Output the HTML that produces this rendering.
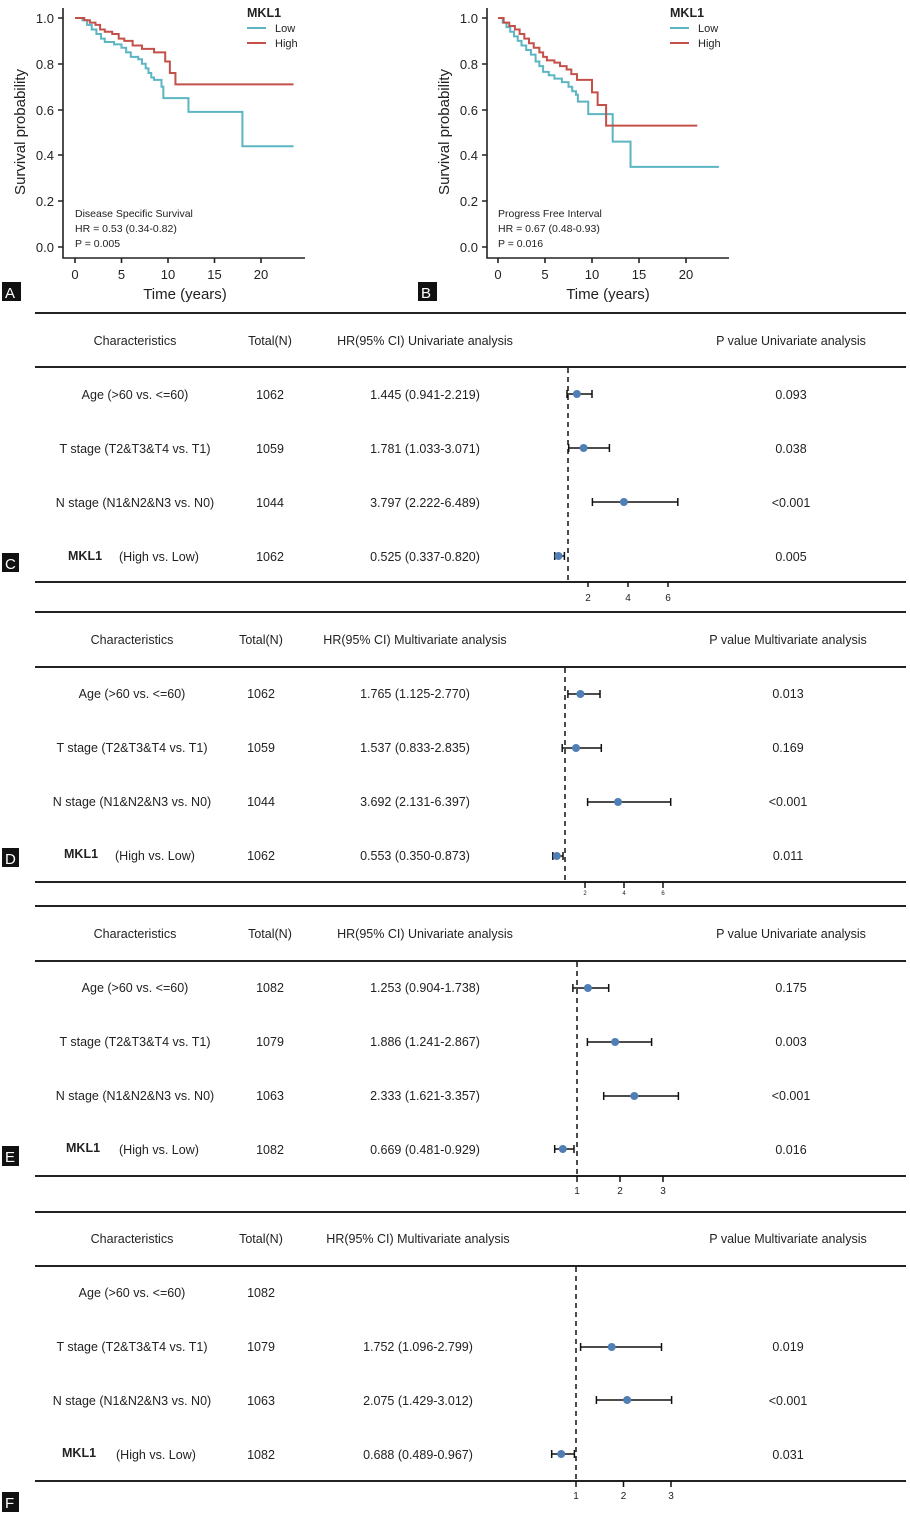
<!DOCTYPE html>
<html><head><meta charset="utf-8"><style>
html,body{margin:0;padding:0;background:#fff}
svg{display:block}
text{font-family:"Liberation Sans",sans-serif;fill:#222}
.t{font-size:12.5px}
.tk{font-size:13px;fill:#333}
.ax{stroke:#222;stroke-width:1.6;fill:none}
.ln{stroke:#222;stroke-width:2}
.lo{stroke:#5bb5c2;stroke-width:2;fill:none}
.hi{stroke:#c4504a;stroke-width:2;fill:none}
.ci{stroke:#111;stroke-width:1.5}
.dot{fill:#4f7fb5}
.dash{stroke:#111;stroke-width:1.5;stroke-dasharray:5,4}
.lab{fill:#fff;font-size:15px}
</style></head><body>
<svg width="910" height="1513" viewBox="0 0 910 1513" xmlns="http://www.w3.org/2000/svg">
<!-- Panel A -->
<g>
<path class="ax" d="M63,8 V258 H305"/>
<g class="ax">
<path d="M58,18H63 M58,64H63 M58,110H63 M58,155H63 M58,201H63 M58,247H63"/>
<path d="M75,258V263 M121.5,258V263 M168,258V263 M214.5,258V263 M261,258V263"/>
</g>
<g class="tk" text-anchor="end">
<text x="54" y="23">1.0</text><text x="54" y="69">0.8</text><text x="54" y="115">0.6</text>
<text x="54" y="160">0.4</text><text x="54" y="206">0.2</text><text x="54" y="252">0.0</text>
</g>
<g class="tk" text-anchor="middle">
<text x="75" y="279">0</text><text x="121.5" y="279">5</text><text x="168" y="279">10</text><text x="214.5" y="279">15</text><text x="261" y="279">20</text>
</g>
<text x="185" y="299" text-anchor="middle" style="font-size:15px">Time (years)</text>
<text transform="translate(25,132) rotate(-90)" text-anchor="middle" style="font-size:15px">Survival probability</text>
<g transform="translate(75,247) scale(9.3,-229)">
<path class="lo" vector-effect="non-scaling-stroke" d="M0,1 H0.8 V0.99 H1.3 V0.97 H1.8 V0.95 H2.3 V0.93 H2.8 V0.91 H3.2 V0.895 H4.2 V0.885 H5 V0.87 H5.5 V0.85 H6 V0.83 H6.8 V0.82 H7.2 V0.8 H7.6 V0.78 H7.9 V0.76 H8.2 V0.74 H8.5 V0.73 H9.3 V0.7 H9.5 V0.65 H12.2 V0.59 H18 V0.44 H23.5"/>
<path class="hi" vector-effect="non-scaling-stroke" d="M0,1 H1 V0.99 H1.6 V0.98 H2.2 V0.97 H2.7 V0.95 H3.2 V0.94 H4 V0.93 H4.7 V0.91 H5.3 V0.9 H6.2 V0.88 H7.2 V0.865 H8.5 V0.85 H9.7 V0.81 H10.2 V0.76 H10.8 V0.71 H23.5"/>
</g>
<text x="247" y="17" style="font-size:12.5px;font-weight:bold">MKL1</text>
<line class="lo" x1="247" y1="28" x2="266" y2="28"/><text x="275" y="32" style="font-size:11px">Low</text>
<line class="hi" x1="247" y1="43" x2="266" y2="43"/><text x="275" y="47" style="font-size:11px">High</text>
<g style="font-size:10.5px"><text x="75" y="217">Disease Specific Survival</text><text x="75" y="232">HR = 0.53 (0.34-0.82)</text><text x="75" y="247">P = 0.005</text></g>
<rect x="2" y="282" width="19" height="19" fill="#111"/><text class="lab" x="5" y="298">A</text>
</g>
<!-- Panel B -->
<g>
<path class="ax" d="M487,8 V258 H729"/>
<g class="ax">
<path d="M482,18H487 M482,64H487 M482,110H487 M482,155H487 M482,201H487 M482,247H487"/>
<path d="M498,258V263 M545,258V263 M592,258V263 M639,258V263 M686,258V263"/>
</g>
<g class="tk" text-anchor="end">
<text x="478" y="23">1.0</text><text x="478" y="69">0.8</text><text x="478" y="115">0.6</text>
<text x="478" y="160">0.4</text><text x="478" y="206">0.2</text><text x="478" y="252">0.0</text>
</g>
<g class="tk" text-anchor="middle">
<text x="498" y="279">0</text><text x="545" y="279">5</text><text x="592" y="279">10</text><text x="639" y="279">15</text><text x="686" y="279">20</text>
</g>
<text x="608" y="299" text-anchor="middle" style="font-size:15px">Time (years)</text>
<text transform="translate(449,132) rotate(-90)" text-anchor="middle" style="font-size:15px">Survival probability</text>
<g transform="translate(498,247) scale(9.4,-229)">
<path class="lo" vector-effect="non-scaling-stroke" d="M0,1 H0.5 V0.98 H0.9 V0.96 H1.3 V0.94 H1.7 V0.92 H2.1 V0.9 H2.5 V0.88 H3 V0.86 H3.5 V0.84 H4 V0.81 H4.4 V0.79 H4.8 V0.765 H5.4 V0.75 H6 V0.735 H6.8 V0.72 H7.5 V0.7 H7.9 V0.68 H8.3 V0.665 H8.5 V0.635 H9.6 V0.58 H12.2 V0.46 H14.1 V0.35 H23.5"/>
<path class="hi" vector-effect="non-scaling-stroke" d="M0,1 H0.6 V0.98 H1.2 V0.965 H1.8 V0.95 H2.3 V0.93 H2.8 V0.91 H3.3 V0.89 H3.8 V0.87 H4.4 V0.85 H4.8 V0.83 H5.2 V0.815 H6 V0.805 H6.6 V0.79 H7.3 V0.775 H7.8 V0.755 H8.4 V0.73 H10 V0.675 H10.6 V0.62 H11.5 V0.53 H21.2"/>
</g>
<text x="670" y="17" style="font-size:12.5px;font-weight:bold">MKL1</text>
<line class="lo" x1="670" y1="28" x2="689" y2="28"/><text x="698" y="32" style="font-size:11px">Low</text>
<line class="hi" x1="670" y1="43" x2="689" y2="43"/><text x="698" y="47" style="font-size:11px">High</text>
<g style="font-size:10.5px"><text x="498" y="217">Progress Free Interval</text><text x="498" y="232">HR = 0.67 (0.48-0.93)</text><text x="498" y="247">P = 0.016</text></g>
<rect x="418" y="282" width="19" height="19" fill="#111"/><text class="lab" x="421" y="298">B</text>
</g>

<!-- Panel C -->
<g class="t">
<line class="ln" x1="35" y1="313" x2="906" y2="313"/>
<line class="ln" x1="35" y1="367" x2="906" y2="367"/>
<line class="ln" x1="35" y1="582" x2="906" y2="582"/>
<line class="ln" x1="35" y1="612" x2="906" y2="612"/>
<g text-anchor="middle">
<text x="135" y="345">Characteristics</text><text x="270" y="345">Total(N)</text><text x="425" y="345">HR(95% CI) Univariate analysis</text><text x="791" y="345">P value Univariate analysis</text>
<text x="135" y="399">Age (&gt;60 vs. &lt;=60)</text><text x="270" y="399">1062</text><text x="425" y="399">1.445 (0.941-2.219)</text><text x="791" y="399">0.093</text>
<text x="135" y="453">T stage (T2&amp;T3&amp;T4 vs. T1)</text><text x="270" y="453">1059</text><text x="425" y="453">1.781 (1.033-3.071)</text><text x="791" y="453">0.038</text>
<text x="135" y="507">N stage (N1&amp;N2&amp;N3 vs. N0)</text><text x="270" y="507">1044</text><text x="425" y="507">3.797 (2.222-6.489)</text><text x="791" y="507">&lt;0.001</text>
<text x="270" y="561">1062</text><text x="425" y="561">0.525 (0.337-0.820)</text><text x="791" y="561">0.005</text>
</g>
<text x="68" y="560" style="font-weight:bold">MKL1</text><text x="119" y="561">(High vs. Low)</text>
<line class="dash" x1="568" y1="368" x2="568" y2="582"/>
<g class="ci">
<path d="M567,394H592 M567,390V398 M592,390V398"/>
<path d="M568.7,448H609.4 M568.7,444V452 M609.4,444V452"/>
<path d="M592.4,502H677.8 M592.4,498V506 M677.8,498V506"/>
<path d="M554.7,556H564.4 M554.7,552V560 M564.4,552V560"/>
<path d="M588,582V587 M628,582V587 M668,582V587"/>
</g>
<circle class="dot" cx="576.9" cy="394" r="4"/><circle class="dot" cx="583.6" cy="448" r="4"/><circle class="dot" cx="623.9" cy="502" r="4"/><circle class="dot" cx="558.5" cy="556" r="4"/>
<g text-anchor="middle" style="font-size:10px"><text x="588" y="601">2</text><text x="628" y="601">4</text><text x="668" y="601">6</text></g>
<rect x="2" y="553" width="17" height="19" fill="#111"/><text class="lab" x="5" y="569">C</text>
</g>

<!-- Panel D -->
<g class="t">
<line class="ln" x1="35" y1="667" x2="906" y2="667"/>
<line class="ln" x1="35" y1="882" x2="906" y2="882"/>
<line class="ln" x1="35" y1="906" x2="906" y2="906"/>
<g text-anchor="middle">
<text x="132" y="644">Characteristics</text><text x="261" y="644">Total(N)</text><text x="415" y="644">HR(95% CI) Multivariate analysis</text><text x="788" y="644">P value Multivariate analysis</text>
<text x="132" y="698">Age (&gt;60 vs. &lt;=60)</text><text x="261" y="698">1062</text><text x="415" y="698">1.765 (1.125-2.770)</text><text x="788" y="698">0.013</text>
<text x="132" y="752">T stage (T2&amp;T3&amp;T4 vs. T1)</text><text x="261" y="752">1059</text><text x="415" y="752">1.537 (0.833-2.835)</text><text x="788" y="752">0.169</text>
<text x="132" y="806">N stage (N1&amp;N2&amp;N3 vs. N0)</text><text x="261" y="806">1044</text><text x="415" y="806">3.692 (2.131-6.397)</text><text x="788" y="806">&lt;0.001</text>
<text x="261" y="860">1062</text><text x="415" y="860">0.553 (0.350-0.873)</text><text x="788" y="860">0.011</text>
</g>
<text x="64" y="858" style="font-weight:bold">MKL1</text><text x="115" y="860">(High vs. Low)</text>
<line class="dash" x1="565" y1="668" x2="565" y2="882"/>
<g class="ci">
<path d="M567.9,694H600 M567.9,690V698 M600,690V698"/>
<path d="M562.2,748H601.3 M562.2,744V752 M601.3,744V752"/>
<path d="M587.6,802H670.7 M587.6,798V806 M670.7,798V806"/>
<path d="M552.8,856H563 M552.8,852V860 M563,852V860"/>
<path d="M585,882V888 M624,882V888 M663,882V888"/>
</g>
<circle class="dot" cx="580.4" cy="694" r="4"/><circle class="dot" cx="576" cy="748" r="4"/><circle class="dot" cx="618" cy="802" r="4"/><circle class="dot" cx="556.8" cy="856" r="4"/>
<g text-anchor="middle" style="font-size:6px"><text x="585" y="895">2</text><text x="624" y="895">4</text><text x="663" y="895">6</text></g>
<rect x="2" y="848" width="17" height="19" fill="#111"/><text class="lab" x="5" y="864">D</text>
</g>

<!-- Panel E -->
<g class="t">
<line class="ln" x1="35" y1="961" x2="906" y2="961"/>
<line class="ln" x1="35" y1="1176" x2="906" y2="1176"/>
<g text-anchor="middle">
<text x="135" y="938">Characteristics</text><text x="270" y="938">Total(N)</text><text x="425" y="938">HR(95% CI) Univariate analysis</text><text x="791" y="938">P value Univariate analysis</text>
<text x="135" y="992">Age (&gt;60 vs. &lt;=60)</text><text x="270" y="992">1082</text><text x="425" y="992">1.253 (0.904-1.738)</text><text x="791" y="992">0.175</text>
<text x="135" y="1046">T stage (T2&amp;T3&amp;T4 vs. T1)</text><text x="270" y="1046">1079</text><text x="425" y="1046">1.886 (1.241-2.867)</text><text x="791" y="1046">0.003</text>
<text x="135" y="1100">N stage (N1&amp;N2&amp;N3 vs. N0)</text><text x="270" y="1100">1063</text><text x="425" y="1100">2.333 (1.621-3.357)</text><text x="791" y="1100">&lt;0.001</text>
<text x="270" y="1154">1082</text><text x="425" y="1154">0.669 (0.481-0.929)</text><text x="791" y="1154">0.016</text>
</g>
<text x="66" y="1152" style="font-weight:bold">MKL1</text><text x="119" y="1154">(High vs. Low)</text>
<line class="dash" x1="577" y1="962" x2="577" y2="1176"/>
<g class="ci">
<path d="M572.9,988H608.7 M572.9,984V992 M608.7,984V992"/>
<path d="M587.4,1042H651.6 M587.4,1038V1046 M651.6,1038V1046"/>
<path d="M603.7,1096H678.4 M603.7,1092V1100 M678.4,1092V1100"/>
<path d="M554.7,1149H574 M554.7,1145V1153 M574,1145V1153"/>
<path d="M577,1176V1182 M620,1176V1182 M663,1176V1182"/>
</g>
<circle class="dot" cx="587.9" cy="988" r="4"/><circle class="dot" cx="615.1" cy="1042" r="4"/><circle class="dot" cx="634.3" cy="1096" r="4"/><circle class="dot" cx="562.8" cy="1149" r="4"/>
<g text-anchor="middle" style="font-size:10px"><text x="577" y="1194">1</text><text x="620" y="1194">2</text><text x="663" y="1194">3</text></g>
<rect x="2" y="1146" width="17" height="20" fill="#111"/><text class="lab" x="5" y="1162">E</text>
</g>

<!-- Panel F -->
<g class="t">
<line class="ln" x1="35" y1="1212" x2="906" y2="1212"/>
<line class="ln" x1="35" y1="1266" x2="906" y2="1266"/>
<line class="ln" x1="35" y1="1481" x2="906" y2="1481"/>
<g text-anchor="middle">
<text x="132" y="1243">Characteristics</text><text x="261" y="1243">Total(N)</text><text x="418" y="1243">HR(95% CI) Multivariate analysis</text><text x="788" y="1243">P value Multivariate analysis</text>
<text x="132" y="1297">Age (&gt;60 vs. &lt;=60)</text><text x="261" y="1297">1082</text>
<text x="132" y="1351">T stage (T2&amp;T3&amp;T4 vs. T1)</text><text x="261" y="1351">1079</text><text x="418" y="1351">1.752 (1.096-2.799)</text><text x="788" y="1351">0.019</text>
<text x="132" y="1405">N stage (N1&amp;N2&amp;N3 vs. N0)</text><text x="261" y="1405">1063</text><text x="418" y="1405">2.075 (1.429-3.012)</text><text x="788" y="1405">&lt;0.001</text>
<text x="261" y="1459">1082</text><text x="418" y="1459">0.688 (0.489-0.967)</text><text x="788" y="1459">0.031</text>
</g>
<text x="62" y="1457" style="font-weight:bold">MKL1</text><text x="116" y="1459">(High vs. Low)</text>
<line class="dash" x1="576" y1="1267" x2="576" y2="1481"/>
<g class="ci">
<path d="M580.6,1347H661.5 M580.6,1343V1351 M661.5,1343V1351"/>
<path d="M596.4,1400H671.6 M596.4,1396V1404 M671.6,1396V1404"/>
<path d="M551.7,1454H574.4 M551.7,1450V1458 M574.4,1450V1458"/>
<path d="M576,1481V1487 M623.5,1481V1487 M671,1481V1487"/>
</g>
<circle class="dot" cx="611.7" cy="1347" r="4"/><circle class="dot" cx="627.1" cy="1400" r="4"/><circle class="dot" cx="561.2" cy="1454" r="4"/>
<g text-anchor="middle" style="font-size:10px"><text x="576" y="1499">1</text><text x="623.5" y="1499">2</text><text x="671" y="1499">3</text></g>
<rect x="2" y="1492" width="17" height="20" fill="#111"/><text class="lab" x="5" y="1508">F</text>
</g>
</svg>
</body></html>
